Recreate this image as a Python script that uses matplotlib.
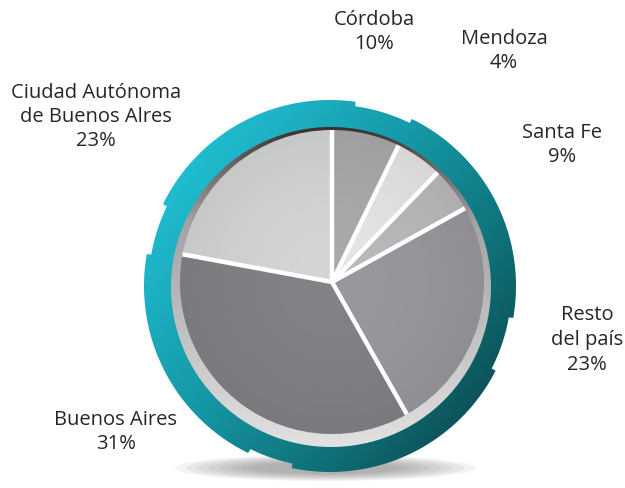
import numpy as np
import matplotlib.pyplot as plt
from matplotlib.patches import Circle, Polygon, Ellipse
from matplotlib.colors import to_rgb

# data
regions = ['Córdoba', 'Mendoza', 'Santa Fe', 'Resto\ndel país', 'Buenos Aires',
           'Ciudad Autónoma\nde Buenos Alres']
percent = [10, 4, 9, 23, 31, 23]
# slice sizes as drawn in the artwork (degrees), they don't follow the printed percentages
drawn_deg = [26, 18, 17, 89.5, 130, 79.5]
colors = ['#a9a9ab', '#e4e4e5', '#b9b9bb', '#98979b', '#828185', '#d3d4d4']

# label centers in pixels (x, y from top)
label_pos = [(374, 32), (504, 51), (562, 145), (587, 340), (116, 432), (96, 117)]

W, H = 625, 488
fig = plt.figure(figsize=(6.25, 4.88), dpi=100)
ax = fig.add_axes([0, 0, 1, 1])


def py(y):
    return H - y


def gradient(stops, t):
    pos = [s[0] for s in stops]
    cols = np.array([to_rgb(s[1]) for s in stops])
    return np.dstack([np.interp(t, pos, cols[:, i]) for i in range(3)])


# shadow under the dial
for i in range(8):
    ax.add_patch(Ellipse((325, py(468)), 300 - i * 22, 26 - i * 2,
                         color='#555555', alpha=0.07, lw=0, zorder=1))

# teal gear ring
rc = (330, py(286))
theta = np.linspace(0, 360, 2881)
rr = np.full_like(theta, 186.0)
for a0, a1 in [(64, 82), (154, 170), (333, 350), (244, 258)]:
    rr[(theta >= a0) & (theta <= a1)] = 181.5
gear = Polygon(np.column_stack([rc[0] + rr * np.cos(np.radians(theta)),
                                rc[1] + rr * np.sin(np.radians(theta))]),
               closed=True, facecolor='none', edgecolor='none', zorder=2)
ax.add_patch(gear)
gx, gy = np.meshgrid(np.linspace(0, 1, 300), np.linspace(0, 1, 300))
t = np.clip(0.75 * gx + 0.6 * (1 - gy) - 0.2, 0, 1)
img = gradient([(0, '#20bcd0'), (0.4, '#1598a6'), (0.75, '#0f6f77'), (1, '#0c4c52')], t)
im = ax.imshow(img, origin='lower', extent=[rc[0] - 190, rc[0] + 190, rc[1] - 190, rc[1] + 190],
               zorder=2, interpolation='bilinear')
im.set_clip_path(gear)

# silver bezel
sc = (331, py(287))
bezel = Circle(sc, 160, facecolor='none', edgecolor='none', zorder=3)
ax.add_patch(bezel)
t2 = 1 - gy
img2 = gradient([(0, '#3a2f2f'), (0.12, '#6c6565'), (0.3, '#a3a2a4'), (1, '#e2e2e2')], t2)
im2 = ax.imshow(img2, origin='lower', extent=[sc[0] - 160, sc[0] + 160, sc[1] - 160, sc[1] + 160],
                zorder=3, interpolation='bilinear')
im2.set_clip_path(bezel)

# pie
pc = (332, py(282))
R = 152
wedges, _ = ax.pie(drawn_deg, colors=colors, startangle=90, counterclock=False,
                   center=pc, radius=R, wedgeprops=dict(linewidth=0))
for w in wedges:
    w.set_zorder(4)

# soft darkening towards the rim
disc = Circle(pc, R, facecolor='none', edgecolor='none', zorder=5)
ax.add_patch(disc)
d = np.hypot(gx - 0.5, gy - 0.5) * 2
shade = np.zeros((300, 300, 4))
shade[..., 3] = np.clip(d, 0, 1) ** 2 * 0.06
im3 = ax.imshow(shade, origin='lower', extent=[pc[0] - R, pc[0] + R, pc[1] - R, pc[1] + R],
                zorder=5, interpolation='bilinear')
im3.set_clip_path(disc)

# white separators
bounds = 90 - np.concatenate([[0], np.cumsum(drawn_deg)[:-1]]) / np.sum(drawn_deg) * 360
for a in bounds:
    ax.plot([pc[0], pc[0] + R * np.cos(np.radians(a))],
            [pc[1], pc[1] + R * np.sin(np.radians(a))],
            color='white', lw=3.2, solid_capstyle='butt', zorder=6)

# labels
for name, p, (x, y) in zip(regions, percent, label_pos):
    ax.text(x, py(y), f'{name}\n{p}%', ha='center', va='center', fontsize=14.5,
            family='Open Sans', color='#262626', linespacing=1.3, zorder=7)

ax.set_xlim(0, W)
ax.set_ylim(0, H)
ax.set_aspect('auto')
ax.axis('off')
fig.savefig('out.png', dpi=100)
